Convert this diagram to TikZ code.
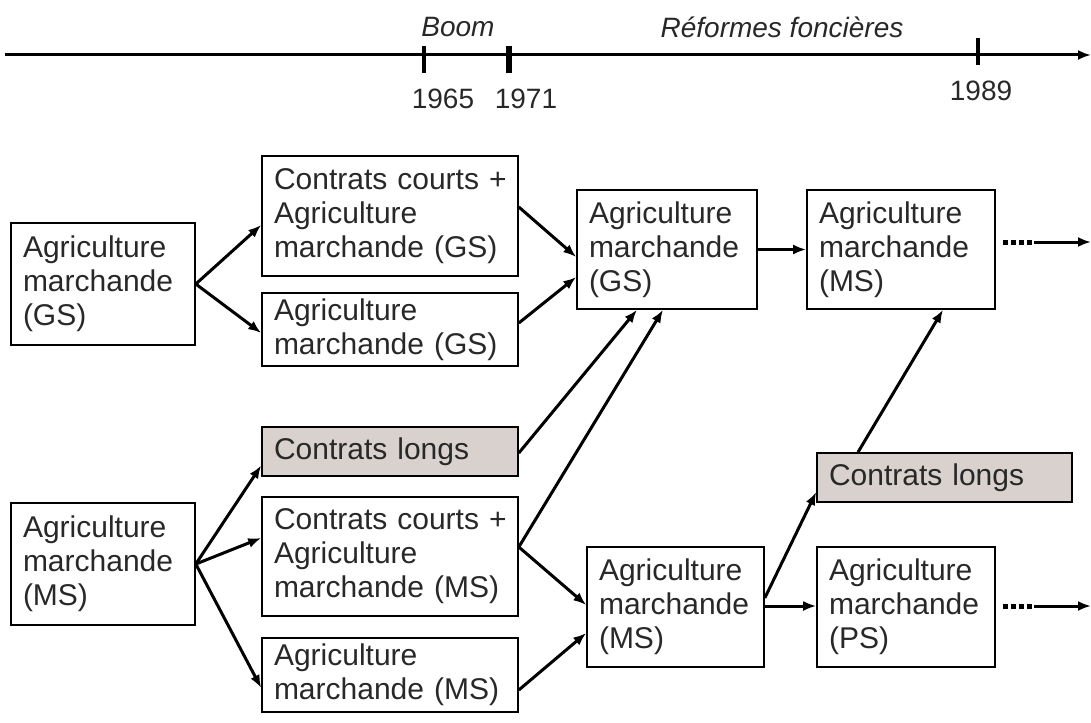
\documentclass[tikz,border=0pt]{standalone}
\usepackage{fontspec}
\setmainfont{Liberation Sans}
\usetikzlibrary{arrows.meta,calc}
\definecolor{boxgray}{RGB}{217,209,206}
\definecolor{ink}{RGB}{40,40,40}
\begin{document}
\begin{tikzpicture}[x=1pt,y=-1pt,
  box/.style={draw=black, line width=1.6pt, inner xsep=12pt, inner ysep=0pt,
    align=left, font=\fontsize{30}{34}\selectfont, text=ink, anchor=center},
  greybox/.style={box, fill=boxgray},
  flow/.style={line width=3pt, -{Latex[length=13pt,width=10pt]}},
  dotseg/.style={line width=5pt, dash pattern=on 5pt off 3pt, line cap=butt},
  tick/.style={line width=4pt},
  year/.style={font=\fontsize{28}{30}\selectfont, inner sep=0pt, text=ink},
  period/.style={font=\fontsize{28}{30}\selectfont\itshape, inner sep=0pt, text=ink}]
\useasboundingbox (0,0) rectangle (1091,722);

% time axis
\coordinate (tl0) at (5,55);
\coordinate (tl1) at (1091,55);
\draw[flow] (tl0) -- (tl1);
\coordinate (t1a) at (424,46); \coordinate (t1b) at (424,73);
\coordinate (t2a) at (509,46); \coordinate (t2b) at (509,73);
\coordinate (t3a) at (978,38); \coordinate (t3b) at (978,65);
\draw[tick] (t1a) -- (t1b);
\draw[tick, line width=6pt] (t2a) -- (t2b);
\draw[tick] (t3a) -- (t3b);
\node[period] (boom) at (458,27) {Boom};
\node[period] (ref) at (782,27) {Réformes foncières};
\node[year] (y65) at (443,99) {1965};
\node[year] (y71) at (526,99) {1971};
\node[year] (y89) at (981,91) {1989};

% first column
\node[box, minimum width=184pt, minimum height=122pt, text width=160pt] (A1) at (103,284) {Agriculture\\marchande\\(GS)};
\node[box, minimum width=184pt, minimum height=122pt, text width=160pt] (A2) at (103,564) {Agriculture\\marchande\\(MS)};

% second column
\node[box, minimum width=256pt, minimum height=120pt, text width=232pt] (B1) at (390,216) {Contrats~courts~+\\Agriculture\\marchande~(GS)};
\node[box, minimum width=256pt, minimum height=73pt, text width=232pt] (B2) at (390,329.5) {Agriculture\\marchande~(GS)};
\node[greybox, minimum width=256pt, minimum height=49pt, text width=232pt] (B3) at (390,451.5) {Contrats~longs};
\node[box, minimum width=256pt, minimum height=119pt, text width=232pt] (B4) at (390,556.5) {Contrats~courts~+\\Agriculture\\marchande~(MS)};
\node[box, minimum width=256pt, minimum height=74pt, text width=232pt] (B5) at (390,675) {Agriculture\\marchande~(MS)};

% third column
\node[box, minimum width=180pt, minimum height=119pt, text width=156pt] (C1) at (667,249.5) {Agriculture\\marchande\\(GS)};
\node[box, minimum width=177pt, minimum height=120pt, text width=153pt] (C2) at (675.5,607) {Agriculture\\marchande\\(MS)};

% fourth column
\node[box, minimum width=188pt, minimum height=119pt, text width=164pt] (D1) at (901,249.5) {Agriculture\\marchande\\(MS)};
\node[greybox, minimum width=255pt, minimum height=49pt, text width=231pt] (D2) at (944.5,477.5) {Contrats~longs};
\node[box, minimum width=178pt, minimum height=120pt, text width=154pt] (D3) at (906,607) {Agriculture\\marchande\\(PS)};

% transitions
\draw[flow] (A1.east) -- ($(B1.west)+(0,9)$);
\draw[flow] (A1.east) -- ($(B2.west)+(0,3.5)$);
\draw[flow] (A2.east) -- ($(B3.west)+(0,14)$);
\draw[flow] (A2.east) -- ($(B4.west)+(0,-18.5)$);
\draw[flow] (A2.east) -- ($(B5.west)+(0,13)$);
\draw[flow] ($(B1.east)+(0,-9)$) -- ($(C1.west)+(0,7.5)$);
\draw[flow] ($(B2.east)+(0,-6.5)$) -- ($(C1.west)+(0,27.5)$);
\draw[flow] ($(B3.east)+(0,1.5)$) -- ($(C1.south)+(-30,0)$);
\draw[flow] ($(B4.east)+(0,-9.5)$) -- ($(C1.south)+(-4,0)$);
\draw[flow] ($(B4.east)+(0,-9.5)$) -- ($(C2.west)+(0,-2)$);
\draw[flow] ($(B5.east)+(0,15)$) -- ($(C2.west)+(0,26)$);
\draw[flow] (C1.east) -- (D1.west);
\draw[flow] ($(C2.east)+(0,-9)$) -- ($(D2.west)+(0,14.5)$);
\draw[flow] ($(C2.east)+(0,-1)$) -- ($(D3.west)+(0,-1)$);
\draw[flow] ($(D2.north)+(-86.5,0)$) -- ($(D1.south)+(42,0)$);

% continuing trends
\coordinate (e1) at ($(D1.east)+(7,-7.5)$);
\coordinate (e1b) at ($(e1)+(31,0)$);
\coordinate (e1c) at (1091,242);
\draw[dotseg] (e1) -- (e1b);
\draw[flow] (e1b) -- (e1c);
\coordinate (e2) at ($(D3.east)+(7,-1)$);
\coordinate (e2b) at ($(e2)+(31,0)$);
\coordinate (e2c) at (1091,606);
\draw[dotseg] (e2) -- (e2b);
\draw[flow] (e2b) -- (e2c);
\end{tikzpicture}
\end{document}
